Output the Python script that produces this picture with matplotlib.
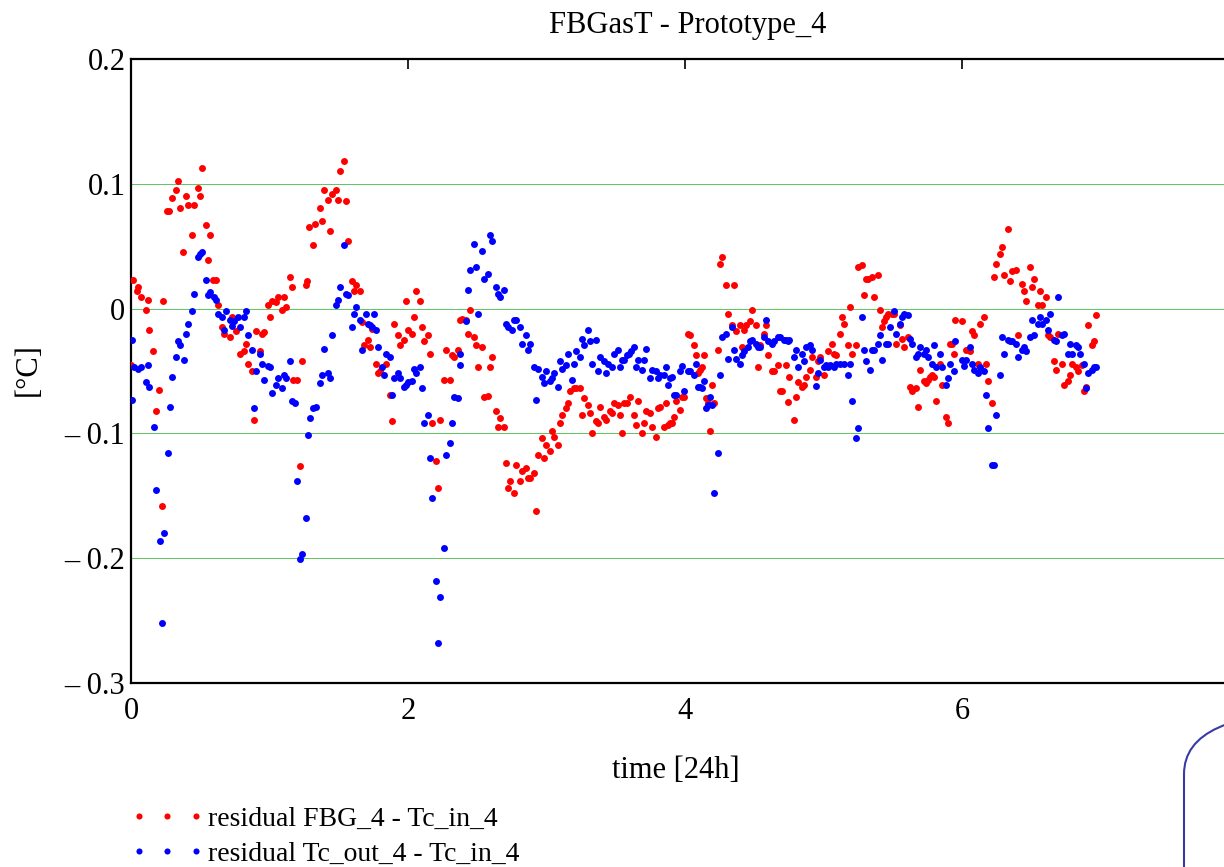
import matplotlib
matplotlib.use("Agg")
import matplotlib.pyplot as plt
from matplotlib.lines import Line2D
from matplotlib.patches import FancyBboxPatch
from matplotlib.transforms import IdentityTransform

plt.rcParams['font.family'] = ['Liberation Serif', 'DejaVu Serif']

# residual FBG_4 - Tc_in_4
fbg_t = [0.001, 0.017, 0.041, 0.053, 0.072, 0.106, 0.12, 0.132, 0.161, 0.178, 0.204, 0.221, 0.233, 0.262, 0.277,
         0.293, 0.322, 0.337, 0.351, 0.378, 0.394, 0.409, 0.438, 0.455, 0.481, 0.496, 0.51, 0.539, 0.553, 0.568,
         0.592, 0.611, 0.626, 0.654, 0.669, 0.712, 0.727, 0.756, 0.785, 0.813, 0.828, 0.842, 0.871, 0.886, 0.9,
         0.929, 0.943, 0.958, 0.987, 1.001, 1.016, 1.044, 1.059, 1.088, 1.102, 1.117, 1.146, 1.16, 1.17,
         1.201, 1.22, 1.232, 1.264, 1.273, 1.288, 1.317, 1.331, 1.362, 1.377, 1.391, 1.42, 1.434, 1.449, 1.478,
         1.492, 1.507, 1.535, 1.55, 1.564, 1.593, 1.608, 1.622, 1.651, 1.665, 1.68, 1.709, 1.723, 1.738, 1.767,
         1.781, 1.795, 1.839, 1.868, 1.882, 1.897, 1.925, 1.94, 1.969, 1.983, 1.998, 2.026, 2.041, 2.055, 2.084,
         2.099, 2.113, 2.142, 2.157, 2.171, 2.2, 2.214, 2.229, 2.258, 2.272, 2.301, 2.315, 2.33, 2.359, 2.373,
         2.387, 2.416, 2.43, 2.445, 2.474, 2.488, 2.503, 2.532, 2.546, 2.575, 2.589, 2.604, 2.633, 2.647, 2.662,
         2.691, 2.705, 2.719, 2.734, 2.763, 2.777, 2.806, 2.821, 2.85, 2.864, 2.878, 2.907, 2.922, 2.936, 2.965,
         2.979, 2.994, 3.023, 3.037, 3.051, 3.08, 3.095, 3.109, 3.138, 3.152, 3.167, 3.196, 3.21, 3.239, 3.254,
         3.268, 3.297, 3.311, 3.326, 3.355, 3.369, 3.383, 3.412, 3.427, 3.456, 3.47, 3.484, 3.513, 3.528, 3.542,
         3.556, 3.584, 3.603, 3.629, 3.644, 3.658, 3.687, 3.702, 3.716, 3.745, 3.76, 3.788, 3.803, 3.817, 3.846,
         3.861, 3.875, 3.89, 3.904, 3.919, 3.933, 3.962, 3.976, 3.991, 4.02, 4.034, 4.063, 4.078, 4.092, 4.106,
         4.121, 4.135, 4.15, 4.164, 4.179, 4.193, 4.208, 4.236, 4.251, 4.265, 4.294, 4.309, 4.337, 4.352, 4.366,
         4.395, 4.409, 4.424, 4.438, 4.467, 4.481, 4.51, 4.525, 4.539, 4.568, 4.582, 4.597, 4.626, 4.64, 4.669,
         4.683, 4.698, 4.727, 4.741, 4.748, 4.785, 4.799, 4.813, 4.842, 4.857, 4.871, 4.9, 4.915, 4.944, 4.958,
         4.973, 5.001, 5.03, 5.059, 5.073, 5.088, 5.117, 5.131, 5.145, 5.174, 5.189, 5.203, 5.232, 5.247, 5.275,
         5.29, 5.305, 5.319, 5.348, 5.362, 5.391, 5.405, 5.42, 5.434, 5.449, 5.463, 5.492, 5.507, 5.521, 5.55,
         5.564, 5.579, 5.608, 5.622, 5.637, 5.666, 5.68, 5.695, 5.723, 5.738, 5.752, 5.767, 5.781, 5.796, 5.81,
         5.839, 5.854, 5.883, 5.897, 5.911, 5.926, 5.94, 5.95, 6.0, 6.028, 6.057, 6.072, 6.086, 6.115, 6.13,
         6.158, 6.173, 6.187, 6.216, 6.231, 6.245, 6.274, 6.288, 6.303, 6.332, 6.346, 6.36, 6.389, 6.404, 6.433,
         6.447, 6.461, 6.49, 6.505, 6.519, 6.548, 6.563, 6.577, 6.606, 6.62, 6.635, 6.664, 6.678, 6.693, 6.721,
         6.736, 6.765, 6.779, 6.794, 6.823, 6.837, 6.866, 6.88, 6.895, 6.909, 6.938, 6.952, 6.967]
fbg_res = [-0.045, 0.023, 0.014, 0.017, 0.009, -0.001, 0.007, -0.017, -0.034, -0.082, -0.065, -0.158, 0.006, 0.078, 0.078,
           0.089, 0.095, 0.102, 0.081, 0.045, 0.09, 0.083, 0.059, 0.083, 0.097, 0.09, 0.113, 0.067, 0.039, 0.059,
           0.023, 0.023, 0.003, -0.015, -0.02, -0.023, -0.007, -0.018, -0.036, -0.034, -0.028, -0.044, -0.05, -0.089, -0.018,
           -0.034, -0.02, -0.019, 0.003, -0.007, 0.006, 0.005, 0.009, -0.001, 0.009, 0.001, 0.025, 0.017, -0.057,
           -0.057, -0.126, -0.042, 0.019, 0.022, 0.065, 0.051, 0.068, 0.081, 0.07, 0.095, 0.087, 0.062, 0.092, 0.095,
           0.087, 0.11, 0.118, 0.086, 0.054, 0.022, 0.014, 0.019, 0.014, -0.011, -0.029, -0.025, -0.031, -0.016, -0.044,
           -0.052, -0.05, -0.044, -0.069, -0.09, -0.012, -0.021, -0.029, -0.025, 0.006, -0.017, -0.02, -0.007, 0.014, 0.006,
           -0.015, -0.026, -0.021, -0.036, -0.092, -0.122, -0.144, -0.089, -0.057, -0.033, -0.057, -0.037, -0.039, -0.033, -0.009,
           -0.008, -0.009, -0.02, -0.001, -0.023, -0.029, -0.047, -0.031, -0.071, -0.07, -0.047, -0.039, -0.082, -0.095, -0.088,
           -0.095, -0.124, -0.144, -0.138, -0.148, -0.125, -0.138, -0.13, -0.128, -0.136, -0.136, -0.132, -0.162, -0.117, -0.104,
           -0.12, -0.109, -0.114, -0.098, -0.103, -0.109, -0.092, -0.085, -0.08, -0.076, -0.066, -0.064, -0.064, -0.064, -0.085,
           -0.072, -0.077, -0.084, -0.1, -0.09, -0.092, -0.079, -0.087, -0.089, -0.082, -0.084, -0.076, -0.077, -0.085, -0.1,
           -0.076, -0.076, -0.071, -0.085, -0.093, -0.074, -0.1, -0.092, -0.082, -0.084, -0.095, -0.103, -0.08, -0.079, -0.095,
           -0.076, -0.093, -0.092, -0.092, -0.087, -0.074, -0.081, -0.071, -0.071, -0.02, -0.021, -0.029, -0.037, -0.052, -0.049,
           -0.047, -0.037, -0.072, -0.076, -0.098, -0.061, -0.076, -0.033, 0.036, 0.041, 0.019, -0.004, -0.013, 0.019, -0.018,
           -0.013, -0.031, -0.017, -0.013, -0.01, -0.001, -0.013, -0.047, -0.029, -0.02, -0.013, -0.037, -0.05, -0.05, -0.045,
           -0.066, -0.066, -0.045, -0.075, -0.055, -0.089, -0.071, -0.059, -0.063, -0.061, -0.055, -0.049, -0.039, -0.055, -0.042,
           -0.039, -0.053, -0.034, -0.028, -0.036, -0.037, -0.02, -0.007, -0.012, -0.029, 0.001, -0.036, -0.029, 0.033, 0.035,
           0.011, 0.024, 0.024, 0.025, 0.009, 0.027, -0.001, -0.015, -0.01, -0.007, -0.004, -0.004, -0.004, -0.028, -0.013,
           -0.024, -0.031, -0.023, -0.063, -0.066, -0.064, -0.079, -0.049, -0.058, -0.06, -0.057, -0.055, -0.053, -0.055, -0.074,
           -0.044, -0.061, -0.087, -0.092, -0.028, -0.028, -0.036, -0.009, -0.01, -0.033, -0.034, -0.018, -0.021, -0.044, -0.012,
           -0.007, -0.044, -0.058, -0.076, 0.025, 0.036, 0.044, 0.049, 0.027, 0.064, 0.022, 0.03, 0.031, -0.021, 0.02,
           0.014, 0.006, 0.033, 0.017, 0.024, 0.003, 0.014, 0.003, 0.009, -0.021, -0.023, -0.042, -0.049, -0.02, -0.044,
           -0.061, -0.058, -0.053, -0.044, -0.047, -0.05, -0.045, -0.066, -0.063, -0.013, -0.029, -0.026, -0.005]

# residual Tc_out_4 - Tc_in_4
tc_t = [0.005, 0.01, 0.024, 0.053, 0.072, 0.106, 0.12, 0.132, 0.164, 0.178, 0.207, 0.221, 0.236, 0.265, 0.279,
        0.293, 0.322, 0.337, 0.351, 0.38, 0.394, 0.409, 0.438, 0.452, 0.481, 0.496, 0.51, 0.539, 0.553, 0.568,
        0.597, 0.611, 0.626, 0.654, 0.669, 0.684, 0.712, 0.727, 0.741, 0.77, 0.785, 0.813, 0.828, 0.842, 0.871,
        0.886, 0.9, 0.929, 0.943, 0.958, 0.987, 1.001, 1.016, 1.044, 1.059, 1.088, 1.102, 1.117, 1.146, 1.16,
        1.182, 1.201, 1.22, 1.232, 1.261, 1.276, 1.29, 1.317, 1.334, 1.362, 1.377, 1.391, 1.42, 1.434, 1.449,
        1.478, 1.492, 1.507, 1.535, 1.55, 1.564, 1.593, 1.608, 1.622, 1.651, 1.665, 1.694, 1.709, 1.723, 1.738,
        1.752, 1.767, 1.781, 1.81, 1.824, 1.839, 1.868, 1.882, 1.897, 1.925, 1.94, 1.969, 1.983, 1.998, 2.026,
        2.041, 2.055, 2.084, 2.099, 2.113, 2.142, 2.157, 2.171, 2.2, 2.214, 2.229, 2.258, 2.272, 2.301, 2.315,
        2.33, 2.359, 2.373, 2.378, 2.416, 2.43, 2.445, 2.474, 2.488, 2.503, 2.532, 2.546, 2.575, 2.589, 2.604,
        2.633, 2.647, 2.662, 2.691, 2.705, 2.719, 2.748, 2.763, 2.777, 2.806, 2.821, 2.85, 2.864, 2.878, 2.907,
        2.922, 2.936, 2.965, 2.979, 2.994, 3.023, 3.037, 3.051, 3.08, 3.095, 3.109, 3.138, 3.152, 3.181, 3.196,
        3.21, 3.239, 3.254, 3.268, 3.297, 3.311, 3.326, 3.355, 3.369, 3.383, 3.412, 3.427, 3.441, 3.47, 3.484,
        3.513, 3.528, 3.542, 3.556, 3.579, 3.593, 3.608, 3.629, 3.644, 3.658, 3.687, 3.702, 3.716, 3.745, 3.76,
        3.788, 3.803, 3.817, 3.846, 3.861, 3.875, 3.89, 3.904, 3.919, 3.933, 3.962, 3.976, 3.991, 4.02, 4.034,
        4.063, 4.078, 4.092, 4.106, 4.121, 4.135, 4.15, 4.164, 4.179, 4.193, 4.208, 4.236, 4.251, 4.265, 4.294,
        4.309, 4.337, 4.352, 4.366, 4.395, 4.409, 4.424, 4.453, 4.467, 4.481, 4.51, 4.525, 4.539, 4.568, 4.582,
        4.597, 4.626, 4.64, 4.669, 4.683, 4.712, 4.727, 4.741, 4.751, 4.785, 4.799, 4.813, 4.842, 4.857, 4.871,
        4.9, 4.915, 4.944, 4.958, 4.973, 5.001, 5.015, 5.03, 5.044, 5.073, 5.088, 5.117, 5.145, 5.174, 5.189,
        5.203, 5.232, 5.247, 5.275, 5.29, 5.305, 5.334, 5.348, 5.362, 5.391, 5.405, 5.42, 5.449, 5.463, 5.478,
        5.507, 5.521, 5.55, 5.564, 5.579, 5.608, 5.622, 5.637, 5.666, 5.68, 5.695, 5.723, 5.738, 5.752, 5.781,
        5.796, 5.81, 5.839, 5.854, 5.883, 5.897, 5.911, 5.94, 5.95, 6.0, 6.014, 6.028, 6.057, 6.072, 6.086,
        6.115, 6.13, 6.158, 6.173, 6.187, 6.216, 6.231, 6.245, 6.274, 6.288, 6.303, 6.332, 6.346, 6.36, 6.389,
        6.404, 6.433, 6.447, 6.461, 6.49, 6.505, 6.519, 6.548, 6.563, 6.577, 6.606, 6.62, 6.635, 6.664, 6.678,
        6.693, 6.721, 6.736, 6.765, 6.779, 6.794, 6.823, 6.837, 6.852, 6.88, 6.895, 6.909, 6.938, 6.952, 6.967]
tc_res = [-0.073, -0.025, -0.047, -0.048, -0.047, -0.059, -0.045, -0.063, -0.095, -0.145, -0.186, -0.252, -0.18, -0.116, -0.079,
          -0.055, -0.039, -0.026, -0.029, -0.041, -0.02, -0.012, -0.002, 0.012, 0.041, 0.044, 0.045, 0.023, 0.011, 0.013,
          0.009, 0.007, -0.004, -0.007, -0.017, -0.002, -0.009, -0.014, -0.01, -0.007, -0.015, -0.007, -0.002, -0.021, -0.033,
          -0.08, -0.05, -0.036, -0.044, -0.057, -0.046, -0.047, -0.068, -0.061, -0.056, -0.064, -0.053, -0.056, -0.042, -0.074,
          -0.076, -0.138, -0.201, -0.197, -0.168, -0.101, -0.088, -0.08, -0.079, -0.06, -0.053, -0.032, -0.052, -0.056, -0.021,
          0.003, 0.007, 0.017, 0.051, 0.012, 0.011, -0.015, -0.004, 0.001, -0.009, -0.033, -0.004, -0.012, -0.013, -0.015,
          -0.004, -0.017, -0.031, -0.047, -0.053, -0.036, -0.039, -0.069, -0.056, -0.052, -0.056, -0.063, -0.061, -0.059, -0.058,
          -0.048, -0.052, -0.047, -0.064, -0.092, -0.085, -0.12, -0.152, -0.218, -0.268, -0.231, -0.192, -0.117, -0.108, -0.092,
          -0.071, -0.072, -0.045, -0.036, -0.01, 0.015, 0.031, 0.052, 0.033, -0.004, 0.046, 0.024, 0.028, 0.059, 0.054,
          0.017, 0.012, 0.009, 0.015, -0.012, -0.015, -0.017, -0.009, -0.009, -0.015, -0.028, -0.021, -0.033, -0.028, -0.047,
          -0.073, -0.048, -0.055, -0.06, -0.05, -0.058, -0.056, -0.052, -0.063, -0.042, -0.048, -0.045, -0.036, -0.057, -0.044,
          -0.034, -0.039, -0.024, -0.029, -0.017, -0.026, -0.044, -0.025, -0.05, -0.039, -0.042, -0.052, -0.044, -0.047, -0.036,
          -0.033, -0.047, -0.041, -0.041, -0.037, -0.036, -0.034, -0.031, -0.047, -0.041, -0.049, -0.041, -0.032, -0.056, -0.049,
          -0.05, -0.056, -0.053, -0.053, -0.047, -0.061, -0.056, -0.055, -0.069, -0.069, -0.05, -0.046, -0.066, -0.05, -0.05,
          -0.053, -0.044, -0.063, -0.063, -0.064, -0.058, -0.08, -0.077, -0.071, -0.077, -0.148, -0.116, -0.053, -0.023, -0.02,
          -0.04, -0.015, -0.033, -0.04, -0.044, -0.037, -0.034, -0.031, -0.026, -0.025, -0.028, -0.031, -0.031, -0.023, -0.009,
          -0.026, -0.028, -0.026, -0.023, -0.023, -0.025, -0.025, -0.026, -0.025, -0.039, -0.033, -0.047, -0.036, -0.042, -0.031,
          -0.029, -0.033, -0.062, -0.052, -0.041, -0.047, -0.045, -0.047, -0.045, -0.047, -0.044, -0.044, -0.044, -0.053, -0.044,
          -0.074, -0.104, -0.096, -0.007, -0.033, -0.042, -0.049, -0.033, -0.033, -0.028, -0.021, -0.041, -0.028, -0.028, -0.015,
          -0.002, -0.02, -0.012, -0.007, -0.004, -0.005, -0.024, -0.028, -0.039, -0.036, -0.031, -0.036, -0.033, -0.039, -0.044,
          -0.029, -0.047, -0.036, -0.047, -0.061, -0.056, -0.044, -0.05, -0.026, -0.041, -0.046, -0.041, -0.031, -0.044, -0.049,
          -0.052, -0.047, -0.05, -0.069, -0.096, -0.125, -0.125, -0.085, -0.053, -0.023, -0.036, -0.025, -0.026, -0.026, -0.028,
          -0.039, -0.033, -0.031, -0.034, -0.023, -0.009, -0.021, -0.012, -0.007, -0.012, -0.009, -0.017, -0.004, -0.025, -0.026,
          0.009, -0.021, -0.02, -0.036, -0.028, -0.036, -0.029, -0.031, -0.036, -0.044, -0.064, -0.052, -0.049, -0.047, -0.047]

x_ticks = [0, 2, 4, 6]
y_ticks = [0.2, 0.1, 0.0, -0.1, -0.2, -0.3]
y_ticklabels = ['0.2', '0.1', '0', '\u2013 0.1', '\u2013 0.2', '\u2013 0.3']

W, H = 1224, 867
fig = plt.figure(figsize=(W / 100, H / 100), dpi=100)
# plot area runs to x = 8, which sits just past the right edge of the picture
ax = fig.add_axes([131 / W, (H - 683) / H, (1239 - 131) / W, (683 - 59) / H])

ax.plot(fbg_t, fbg_res, 'o', color='#ff0000', ms=5, mec='none', zorder=3)
ax.plot(tc_t, tc_res, 'o', color='#0000ff', ms=5, mec='none', zorder=3)

ax.set_xlim(0, 8)
ax.set_ylim(-0.3, 0.2)
ax.set_xticks(x_ticks)
ax.set_xticklabels([str(v) for v in x_ticks])
ax.set_yticks(y_ticks)
ax.set_yticklabels(y_ticklabels)
ax.yaxis.grid(True, color='#44bb44', lw=0.6)
ax.set_axisbelow(True)

for s in ['left', 'bottom', 'top']:
    ax.spines[s].set_linewidth(1.6)
    ax.spines[s].set_color('black')
ax.spines['right'].set_visible(False)

ax.tick_params(axis='x', which='both', direction='in', top=True, bottom=False,
               length=7, width=1.2, labelsize=22, pad=10)
ax.tick_params(axis='y', length=0, labelsize=22, pad=4)

fig.text(688 / W, 1 - 26 / H, 'FBGasT - Prototype_4', ha='center', va='center', fontsize=22)
fig.text(676 / W, 1 - 770 / H, 'time [24h]', ha='center', va='center', fontsize=22)
fig.text(28 / W, 1 - 370 / H, '[\u00b0C]', ha='center', va='center', rotation=90, fontsize=22)

h_red = Line2D([], [], ls='none', marker='o', color='#ff0000', ms=4.4, mec='none')
h_blue = Line2D([], [], ls='none', marker='o', color='#0000ff', ms=4.4, mec='none')
fig.legend([h_red, h_blue], ['residual FBG_4 - Tc_in_4', 'residual Tc_out_4 - Tc_in_4'],
           loc='upper left', bbox_to_anchor=(130.6 / W, 1 - 806 / H), frameon=False,
           numpoints=3, handlelength=2.64, handletextpad=0.16, borderpad=0,
           borderaxespad=0, labelspacing=0.36, fontsize=20)

# rounded region outline at the lower right corner
fig.add_artist(FancyBboxPatch((1184, -200), 200, 200 + (H - 712), boxstyle='round,pad=0,rounding_size=62',
                              transform=IdentityTransform(), fill=False, ec='#3a3aa6', lw=1.5))

fig.savefig('out.png', dpi=100)
